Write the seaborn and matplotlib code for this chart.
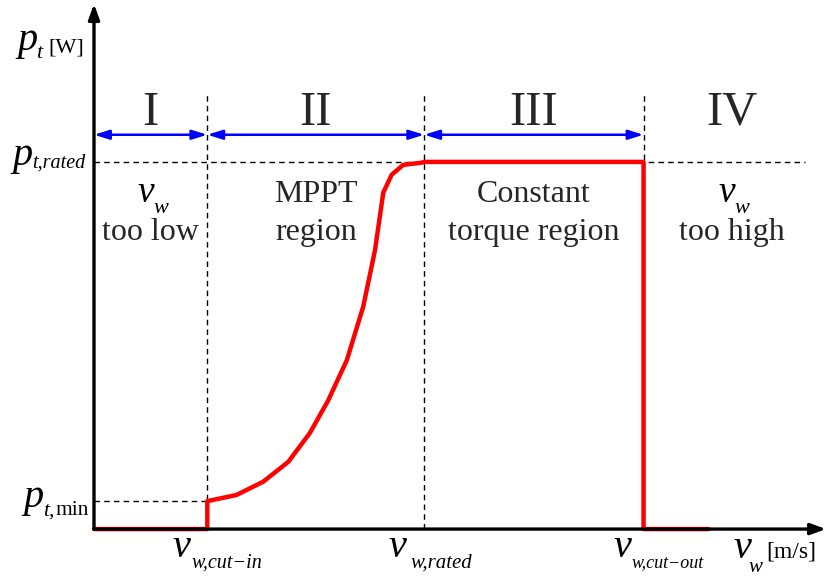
import numpy as np
import pandas as pd
import matplotlib
matplotlib.use("Agg")
import matplotlib.pyplot as plt
import seaborn as sns

# Characteristic wind speeds [m/s] and power levels [p.u. of rated]
v_cut_in = 4.7
v_rated = 13.7
v_cut_out = 22.8
v_end = 25.5
p_min = 0.076
p_rated = 1.0

# Power curve through the MPPT region
v_mppt = [4.7, 5.92, 7.02, 8.06, 8.96, 9.72, 10.49, 11.17, 11.66, 12.00, 12.35, 12.83, 13.60]
p_mppt = [0.079, 0.093, 0.129, 0.183, 0.262, 0.351, 0.460, 0.606, 0.760, 0.916, 0.965, 0.992, 0.998]

region_names = ["I", "II", "III", "IV"]
region_notes = [(None, "too low"), ("MPPT", "region"),
                ("Constant", "torque region"), (None, "too high")]

v_curve = [0.0, v_cut_in, v_cut_in] + v_mppt[1:] + [v_rated, v_cut_out, v_cut_out, v_end]
p_curve = [0.0, 0.0, p_min] + p_mppt[1:] + [p_rated, p_rated, 0.0, 0.0]
df = pd.DataFrame({"v": v_curve, "p": p_curve})

sns.set_style("white")
plt.rcParams["font.family"] = ["Liberation Serif", "DejaVu Serif"]

fig = plt.figure(figsize=(8.26, 5.79), dpi=100)
ax = fig.add_axes([0, 0, 1, 1])
x_max = 30.37
ax.set_xlim(-3.90, x_max)
ax.set_ylim(-0.136, 1.441)
ax.axis("off")


def put(text, anchor, dx, dy, size, italic=True, ha="left"):
    """Place a text piece at a pixel offset from a data anchor (baseline aligned)."""
    ax.annotate(text, xy=anchor, xytext=(dx, dy), textcoords="offset pixels",
                ha=ha, va="baseline", fontsize=size,
                fontstyle="italic" if italic else "normal", color="black")


# Axes with arrow heads
arrow_kw = dict(arrowstyle="-|>,head_length=0.9,head_width=0.33", lw=2.4,
                color="black", shrinkA=0, shrinkB=0)
ax.annotate("", xy=(x_max, 0), xytext=(0, 0), arrowprops=arrow_kw)
ax.annotate("", xy=(0, 1.43), xytext=(0, 0), arrowprops=arrow_kw)

# Region boundaries and reference levels
top = 1.191
dash = dict(ls=(0, (4, 3)), lw=1.0, color="black")
for v in (v_cut_in, v_rated, v_cut_out):
    ax.plot([v, v], [0, top], **dash)
ax.plot([0, 29.5], [p_rated, p_rated], **dash)
ax.plot([0, v_cut_in], [p_min, p_min], **dash)

# Power curve
sns.lineplot(data=df, x="v", y="p", sort=False, estimator=None, color="#ff0000",
             lw=3.2, ax=ax, legend=False)

# Region spans
y_arrow = 1.074
bounds = [0, v_cut_in, v_rated, v_cut_out]
for a, b in zip(bounds[:-1], bounds[1:]):
    ax.annotate("", xy=(b, y_arrow), xytext=(a, y_arrow),
                arrowprops=dict(arrowstyle="<|-|>,head_length=0.9,head_width=0.28", lw=1.8,
                                color="#0000ff", shrinkA=0, shrinkB=0))

centers = [(0 + v_cut_in) / 2, (v_cut_in + v_rated) / 2, (v_rated + v_cut_out) / 2, 26.45]
for c, name, (l1, l2) in zip(centers, region_names, region_notes):
    ax.text(c, 1.101, name, ha="center", va="baseline", fontsize=35)
    if l1 is None:
        put("v", (c, 0.891), -13, 0, 27)
        put("w", (c, 0.891), 3, -11, 16)
    else:
        ax.text(c, 0.891, l1, ha="center", va="baseline", fontsize=23)
    ax.text(c, 0.787, l2, ha="center", va="baseline", fontsize=23)

# Power axis labels
put("p", (0, p_rated), -77, 112, 29)
put("t", (0, p_rated), -58, 104, 16)
put("[W]", (0, p_rated), -46, 109, 16, italic=False)

put("p", (0, p_rated), -82, -3, 29)
put("t,rated", (0, p_rated), -62, -6, 14.5)

put("p", (0, p_min), -71, -6, 29)
put("t,", (0, p_min), -51, -14, 15.5)
put("min", (0, p_min), -39, -14, 15.5, italic=False)

# Wind speed axis labels
put("v", (v_cut_in, 0), -35, -28, 29)
put("w,cut\u2212in", (v_cut_in, 0), -16, -38, 14.5)
put("v", (v_rated, 0), -36, -28, 29)
put("w,rated", (v_rated, 0), -14, -38, 15)
put("v", (v_cut_out, 0), -30, -28, 29)
put("w,cut\u2212out", (v_cut_out, 0), -12, -38, 13)
put("v", (x_max, 0), -93, -29, 29)
put("w", (x_max, 0), -77, -43, 15)
put("[m/s]", (x_max, 0), -60, -28, 17, italic=False)

fig.savefig("out.png", dpi=100)
